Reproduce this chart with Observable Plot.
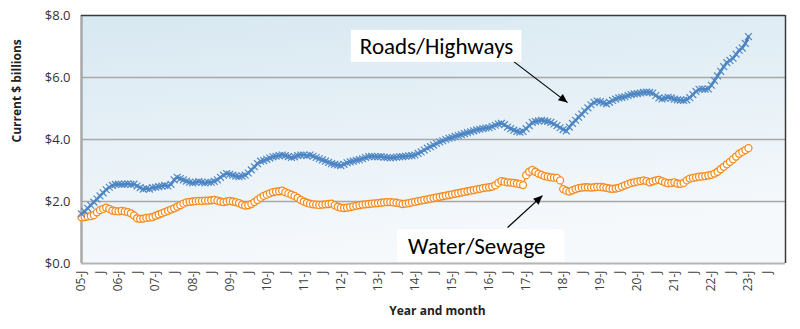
<!DOCTYPE html>
<html><head><meta charset="utf-8">
<script src="https://cdn.jsdelivr.net/npm/d3@7"></script>
<script src="https://cdn.jsdelivr.net/npm/@observablehq/plot@0.6"></script>
<style>body{margin:0;background:#fff;} svg{display:block;}</style>
</head><body><div id="chart"></div>
<script>
// Monthly values, Jan 2005 .. Jan 2023 (current $ billions)
const startYear = 2005;
const roads = [
  1.60,1.68,1.78,1.88,1.98,2.08,2.18,2.28,2.38,2.46,2.52,2.55,
  2.56,2.55,2.56,2.57,2.55,2.56,2.50,2.45,2.40,2.42,2.40,2.45,
  2.46,2.48,2.50,2.52,2.50,2.55,2.70,2.78,2.74,2.70,2.66,2.62,
  2.60,2.62,2.64,2.62,2.60,2.62,2.62,2.65,2.70,2.78,2.85,2.90,
  2.88,2.85,2.82,2.80,2.82,2.85,2.92,3.02,3.12,3.22,3.30,3.32,
  3.36,3.40,3.44,3.46,3.48,3.50,3.48,3.45,3.42,3.44,3.48,3.50,
  3.50,3.48,3.50,3.46,3.42,3.38,3.34,3.30,3.26,3.22,3.20,3.18,
  3.16,3.20,3.25,3.28,3.30,3.33,3.35,3.38,3.42,3.45,3.46,3.45,
  3.44,3.45,3.43,3.42,3.41,3.42,3.43,3.44,3.45,3.46,3.47,3.48,
  3.50,3.55,3.60,3.66,3.72,3.77,3.82,3.87,3.92,3.96,4.00,4.04,
  4.06,4.10,4.13,4.16,4.19,4.22,4.25,4.28,4.31,4.33,4.35,4.37,
  4.38,4.42,4.46,4.50,4.52,4.48,4.40,4.35,4.30,4.26,4.24,4.26,
  4.35,4.45,4.55,4.58,4.60,4.62,4.60,4.58,4.55,4.50,4.45,4.38,
  4.32,4.28,4.40,4.52,4.62,4.72,4.82,4.92,5.02,5.12,5.20,5.24,
  5.22,5.18,5.15,5.20,5.26,5.30,5.34,5.36,5.38,5.42,5.45,5.47,
  5.48,5.50,5.52,5.53,5.52,5.50,5.42,5.34,5.31,5.33,5.36,5.34,
  5.30,5.28,5.27,5.26,5.28,5.35,5.45,5.55,5.62,5.63,5.62,5.63,
  5.75,5.90,6.05,6.20,6.35,6.48,6.55,6.62,6.75,6.88,6.95,7.10,
  7.32
];
const water = [
  1.49,1.50,1.52,1.53,1.56,1.65,1.72,1.76,1.80,1.76,1.71,1.69,
  1.68,1.70,1.68,1.66,1.62,1.55,1.46,1.44,1.45,1.47,1.48,1.50,
  1.54,1.58,1.62,1.66,1.70,1.74,1.78,1.83,1.88,1.93,1.97,1.99,
  2.00,2.01,2.02,2.02,2.03,2.03,2.04,2.05,2.03,2.00,1.98,2.00,
  2.02,2.00,1.98,1.95,1.90,1.87,1.88,1.92,1.98,2.05,2.12,2.18,
  2.22,2.26,2.30,2.32,2.33,2.35,2.30,2.26,2.22,2.18,2.12,2.05,
  2.00,1.96,1.93,1.91,1.90,1.89,1.90,1.91,1.92,1.93,1.88,1.83,
  1.80,1.79,1.80,1.82,1.84,1.86,1.88,1.90,1.91,1.92,1.93,1.94,
  1.95,1.96,1.97,1.98,1.98,1.97,1.96,1.94,1.92,1.93,1.95,1.97,
  1.99,2.01,2.03,2.05,2.07,2.09,2.11,2.13,2.15,2.17,2.19,2.21,
  2.23,2.25,2.27,2.29,2.31,2.33,2.35,2.37,2.39,2.41,2.43,2.45,
  2.46,2.48,2.52,2.60,2.66,2.64,2.62,2.61,2.60,2.58,2.56,2.53,
  2.85,2.96,3.02,2.96,2.90,2.86,2.82,2.80,2.78,2.77,2.76,2.68,
  2.40,2.35,2.32,2.36,2.40,2.43,2.45,2.46,2.46,2.45,2.46,2.47,
  2.47,2.46,2.44,2.42,2.41,2.42,2.44,2.48,2.52,2.56,2.60,2.62,
  2.64,2.66,2.68,2.66,2.62,2.65,2.68,2.70,2.66,2.62,2.59,2.60,
  2.62,2.58,2.57,2.60,2.68,2.74,2.76,2.78,2.80,2.81,2.82,2.84,
  2.86,2.90,2.96,3.04,3.12,3.20,3.28,3.36,3.45,3.54,3.60,3.66,
  3.72
];
const monthsShown = 228;              // axis runs Jan 2005 .. Jan 2024
const tickMonths = d3.range(0, 223, 6);
const yTicks = [0, 2, 4, 6, 8];
const gridValues = [2, 4, 6];
const labels = [
  {text: "Roads/Highways", m: 115, v: 7.0},
  {text: "Water/Sewage", m: 128, v: 0.56}
];
const arrows = [
  {m1: 139.9, v1: 6.52, m2: 157.4, v2: 5.19},
  {m1: 138.0, v1: 1.16, m2: 149.3, v2: 2.19}
];

const tickLabel = m => m % 12 === 0 ? String((startYear + m / 12) % 100).padStart(2, "0") + "-J" : "J";
const roadsData = roads.map((v, i) => ({m: i, v}));
const waterData = water.map((v, i) => ({m: i, v}));
const blue = "#3d78b7", orange = "#f68b1f";

const chart = Plot.plot({
  width: 800, height: 329,
  marginLeft: 81, marginRight: 15, marginTop: 15, marginBottom: 66,
  style: {fontFamily: "'Open Sans', sans-serif", background: "#fff", color: "#333"},
  x: {domain: [0, monthsShown]},
  y: {domain: [0, 8]},
  marks: [
    Plot.frame({fill: "#e6f0f6", className: "bgframe"}),
    Plot.ruleY(gridValues, {stroke: "#a8a8a8", strokeWidth: 1.3}),
    Plot.ruleX([0], {stroke: "#a9a9a9", strokeWidth: 2.5}),
    Plot.ruleY([0], {stroke: "#b5b5b5", strokeWidth: 2}),
    Plot.ruleY([8], {stroke: "#3a3a3a", strokeWidth: 1.5}),
    Plot.ruleX([monthsShown], {stroke: "#3a3a3a", strokeWidth: 1.5}),
    Plot.axisX({ticks: tickMonths, tickFormat: tickLabel, tickRotate: -90, tickSize: 0, tickPadding: 7, fontSize: 12, label: null, fill: "#404040"}),
    Plot.axisY({ticks: yTicks, tickFormat: d => "$" + d.toFixed(1), tickSize: 0, tickPadding: 11, fontSize: 13, label: null, fill: "#333"}),
    Plot.text(["Year and month"], {frameAnchor: "bottom", dy: 51, dx: 4, fontWeight: "bold", fontSize: 12, fill: "#222"}),
    Plot.text(["Current $ billions"], {frameAnchor: "left", dx: -64, dy: 3, rotate: -90, fontWeight: "bold", fontSize: 12, fill: "#222"}),
    Plot.line(waterData, {x: "m", y: "v", stroke: orange, strokeWidth: 1.5}),
    Plot.dot(waterData, {x: "m", y: "v", r: 3.5, stroke: orange, fill: "white", strokeWidth: 1.3}),
    Plot.line(roadsData, {x: "m", y: "v", stroke: blue, strokeWidth: 2.5}),
    Plot.dot(roadsData, {x: "m", y: "v", symbol: "times", r: 3.2, stroke: "#5088c6", strokeWidth: 1.2}),
    Plot.link(arrows, {x1: "m1", y1: "v1", x2: "m2", y2: "v2", stroke: "black", strokeWidth: 1.2, className: "annoarrow"}),
    Plot.text(labels, {x: "m", y: "v", text: "text", fontSize: 23, fill: "black", className: "anno", fontFamily: "Carlito, Calibri, Lato, sans-serif"})
  ]
});
document.getElementById("chart").append(chart);

const svg = d3.select(chart);
const defs = svg.insert("defs", ":first-child");
const grad = defs.append("linearGradient").attr("id", "bg")
  .attr("x1", 0).attr("y1", 0).attr("x2", 0.25).attr("y2", 1);
grad.append("stop").attr("offset", "0%").attr("stop-color", "#d7e8f1");
grad.append("stop").attr("offset", "100%").attr("stop-color", "#f6f9fc");
svg.selectAll(".bgframe, .bgframe rect").attr("fill", "url(#bg)");
defs.append("marker").attr("id", "ah").attr("viewBox", "0 0 10 10")
  .attr("refX", 10).attr("refY", 5).attr("markerWidth", 10).attr("markerHeight", 9)
  .attr("markerUnits", "userSpaceOnUse").attr("orient", "auto")
  .append("path").attr("d", "M0,0.5L10,5L0,9.5z").attr("fill", "black");
svg.selectAll(".annoarrow path").attr("marker-end", "url(#ah)");
const pads = [[9, 8], [11, 19]];
svg.selectAll(".anno text").each(function(d, i) {
  const b = this.getBBox();
  const p = pads[i] || [8, 8];
  d3.select(this.parentNode).insert("rect", () => this)
    .attr("x", b.x - p[0]).attr("y", b.y - 2)
    .attr("width", b.width + p[0] + p[1]).attr("height", b.height + 4)
    .attr("transform", this.getAttribute("transform"))
    .attr("fill", "white");
});
</script>
</body></html>
